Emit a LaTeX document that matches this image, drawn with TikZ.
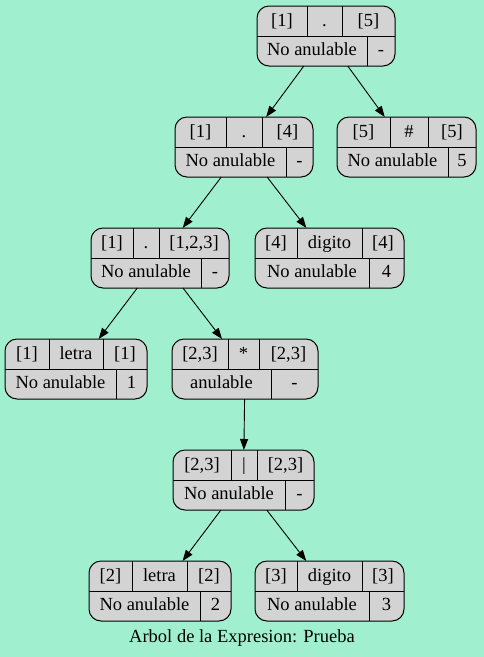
\documentclass[tikz,border=0pt]{standalone}
\usepackage{fontspec}
\setmainfont{Liberation Serif}[Ligatures=TeX]
\usetikzlibrary{arrows.meta}
\definecolor{bg}{RGB}{160,240,208}
\definecolor{recfill}{RGB}{211,211,211}
\tikzset{
  recshape/.style={draw=black, fill=recfill, rounded corners=12pt, inner sep=0pt, outer sep=0pt, line width=1pt, anchor=north west},
  recline/.style={draw=black, line width=0.9pt},
  lbl/.style={font=\rmfamily\fontsize{18.5}{20}\selectfont, inner sep=0pt, anchor=base},
  edge/.style={draw=black, line width=0.9pt, -{Triangle[length=11pt,width=8pt]}},
}
% name, left, top, right, d1, d2, d3
\newcommand{\recbox}[7]{%
  \node[recshape, minimum width={(#4-#2)*1pt}, minimum height=60pt] (#1) at (#2,#3) {};
  \draw[recline] (#1.west) -- (#1.east);
  \draw[recline] (#5,#3) -- (#5,{#3+30});
  \draw[recline] (#6,#3) -- (#6,{#3+30});
  \draw[recline] (#7,{#3+30}) -- (#7,{#3+60});
  \coordinate (#1-a) at ({(#2+#5)/2},{#3+20.5});
  \coordinate (#1-b) at ({(#5+#6)/2},{#3+20.5});
  \coordinate (#1-c) at ({(#6+#4)/2},{#3+20.5});
  \coordinate (#1-d) at ({(#2+#7)/2},{#3+49.5});
  \coordinate (#1-e) at ({(#7+#4)/2},{#3+49.5});
}
% name, t1, t2, t3, b1, b2
\newcommand{\rectext}[6]{%
  \node[lbl] (#1-t1) at (#1-a) {#2};
  \node[lbl] (#1-t2) at (#1-b) {#3};
  \node[lbl] (#1-t3) at (#1-c) {#4};
  \node[lbl] (#1-b1) at (#1-d) {#5};
  \node[lbl] (#1-b2) at (#1-e) {#6};
}
\begin{document}
\begin{tikzpicture}[x=1pt,y=-1pt]
  \fill[bg] (0,0) rectangle (484,657);
  \useasboundingbox (0,0) rectangle (484,657);

  \recbox{n1}{257}{6}{395}{307}{342}{367}
  \rectext{n1}{[1]}{.}{[5]}{No anulable}{-}

  \recbox{n2}{175}{117}{313}{226}{262}{286}
  \rectext{n2}{[1]}{.}{[4]}{No anulable}{-}

  \recbox{n3}{337}{117}{476}{390}{428}{448}
  \rectext{n3}{[5]}{\#}{[5]}{No anulable}{5}

  \recbox{n4}{91}{228}{229}{133}{159}{201}
  \rectext{n4}{[1]}{.}{[1,2,3]}{No anulable}{-}

  \recbox{n5}{255}{228}{404}{297}{362}{369}
  \rectext{n5}{[4]}{digito}{[4]}{No anulable}{4}

  \recbox{n6}{5}{339}{147}{49}{103}{116}
  \rectext{n6}{[1]}{letra}{[1]}{No anulable}{1}

  \recbox{n7}{172}{339}{318}{228}{259}{271}
  \rectext{n7}{[2,3]}{*}{[2,3]}{anulable}{-}

  \recbox{n8}{173}{450}{314}{231}{257}{285}
  \rectext{n8}{[2,3]}{|}{[2,3]}{No anulable}{-}

  \recbox{n9}{89}{561}{231}{132}{187}{200}
  \rectext{n9}{[2]}{letra}{[2]}{No anulable}{2}

  \recbox{n10}{255}{561}{404}{297}{362}{369}
  \rectext{n10}{[3]}{digito}{[3]}{No anulable}{3}

  \draw[edge] (n1) -- (n2);
  \draw[edge] (n1) -- (n3);
  \draw[edge] (n2) -- (n4);
  \draw[edge] (n2) -- (n5);
  \draw[edge] (n4) -- (n6);
  \draw[edge] (n4) -- (n7);
  \draw[edge] (n7) -- (n8);
  \draw[edge] (n8) -- (n9);
  \draw[edge] (n8) -- (n10);

  \node[lbl] (caption) at (242,642) {Arbol de la Expresion: Prueba};
\end{tikzpicture}
\end{document}
